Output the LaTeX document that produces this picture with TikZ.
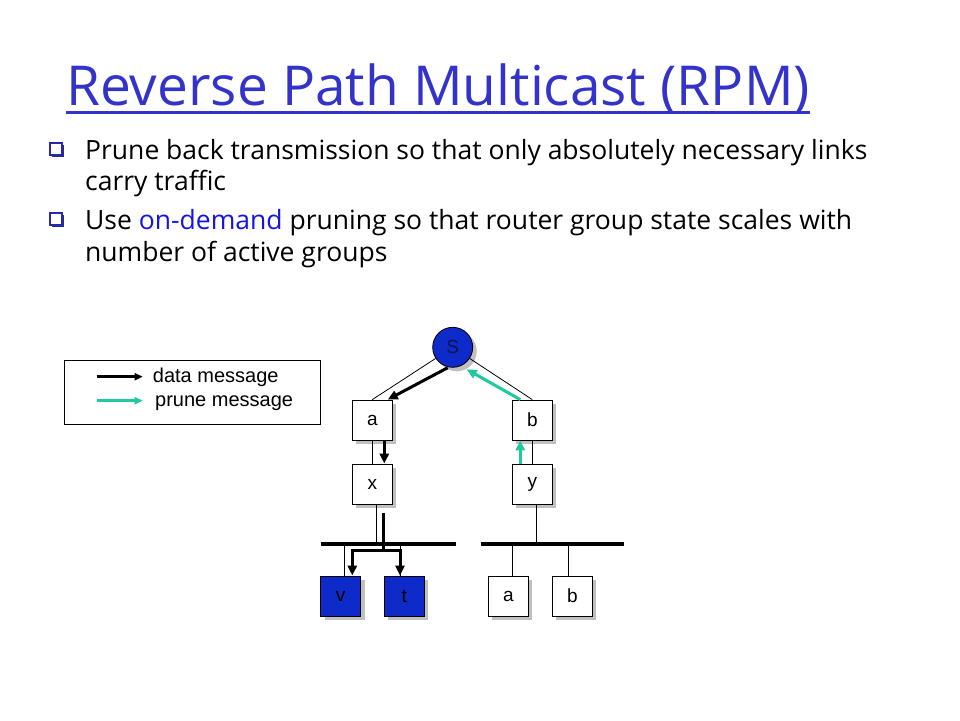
\documentclass[tikz,border=0pt]{standalone}
\usepackage{fontspec}
\setmainfont{Open Sans}
\newfontfamily\arialf{Liberation Sans}
\usetikzlibrary{arrows.meta,shadows,calc}
\definecolor{titleblue}{RGB}{51,51,204}
\definecolor{nodeblue}{RGB}{14,42,200}
\definecolor{prunegreen}{RGB}{32,200,160}
\definecolor{ondemand}{RGB}{20,20,230}
\definecolor{bulletblue}{RGB}{40,40,170}
\begin{document}
\begin{tikzpicture}[x=1pt,y=-1pt,
  shad/.style={drop shadow={shadow xshift=4pt, shadow yshift=-4pt, fill=black!70, opacity=0.35}},
  box/.style={draw=black, line width=0.8pt, fill=white, minimum size=40pt, inner sep=0pt,
    font=\arialf\fontsize{19}{19}\selectfont, shad},
  bluebox/.style={box, fill=nodeblue},
  link/.style={line width=0.8pt},
  bus/.style={line width=4.5pt},
  tip/.style={-{Triangle[length=10pt,width=9pt]}},
  data/.style={line width=3pt, tip},
  prune/.style={line width=3pt, draw=prunegreen, tip},
  body/.style={anchor=base west, inner sep=0pt, font=\fontsize{26.5}{26.5}\selectfont},
  bulletsq/.style={draw=bulletblue, line width=1.3pt, fill=white, minimum size=12pt, inner sep=0pt,
    drop shadow={shadow xshift=1.8pt, shadow yshift=-1.8pt, fill=bulletblue, opacity=1}},
  legtext/.style={anchor=west, inner sep=0pt, font=\arialf\fontsize{20}{20}\selectfont}
]
\useasboundingbox (0,0) rectangle (960,720);
\fill[white] (0,0) rectangle (960,720);

% title
\node[anchor=base west, inner sep=0pt, text=titleblue, font=\fontsize{55}{55}\selectfont] (title) at (66,105) {Reverse Path Multicast (RPM)};
\draw[titleblue, line width=3pt] ($(title.base west)+(0,7)$) -- ($(title.base east)+(0,7)$);

% bullets
\node[bulletsq] (b1) at (56,149) {};
\node[body] (l1) at (85,159) {Prune back transmission so that only absolutely necessary links};
\node[body] (l2) at (85,190) {carry traffic};
\node[bulletsq] (b2) at (56,219) {};
\node[body] (l3) at (85,229) {Use \textcolor{ondemand}{on-demand} pruning so that router group state scales with};
\node[body] (l4) at (85,261) {number of active groups};

% legend
\node[draw, line width=0.8pt, minimum width=256pt, minimum height=64pt, inner sep=0pt, anchor=north west] (legend) at (64,360) {};
\coordinate (d1) at ($(legend.north west)+(32.7,16.7)$);
\coordinate (d2) at ($(legend.north west)+(78.7,16.7)$);
\coordinate (p1) at ($(legend.north west)+(32.7,40.7)$);
\coordinate (p2) at ($(legend.north west)+(78.7,40.7)$);
\draw[line width=2.5pt, -{Triangle[length=8pt,width=7pt]}] (d1) -- (d2);
\draw[line width=2.5pt, draw=prunegreen, -{Triangle[length=8pt,width=7pt]}] (p1) -- (p2);
\node[legtext] (dl) at (152.7,377) {data message};
\node[legtext] (pl) at (155,403) {prune message};

% network nodes
\node[circle, draw=black, line width=0.8pt, fill=nodeblue, minimum size=40pt, inner sep=0pt,
  font=\arialf\fontsize{19}{19}\selectfont, text={rgb,255:red,10;green,20;blue,80}, shad] (S) at (452.7,347.3) {S};
\node[box] (a) at (372.3,420) {a};
\node[box] (b) at (532.3,420) {b};
\node[box] (x) at (372.3,484) {x};
\node[box] (y) at (532.3,484) {y};
\node[bluebox] (v) at (340.7,596) {v};
\node[bluebox] (t) at (404.3,596) {t};
\node[box] (a2) at (508.3,596) {a};
\node[box] (b2) at (572.3,596) {b};

% buses
\coordinate (busL1) at (320.7,544);
\coordinate (busL2) at (456,544);
\coordinate (busR1) at (480.7,544);
\coordinate (busR2) at (624,544);

% thin links
\draw[link] (S) -- (a.north);
\draw[link] (S) -- (b.north);
\draw[link] (a) -- (x);
\draw[link] (b) -- (y);
\draw[link] ([xshift=4.5pt]x.south) -- ([xshift=4.5pt]x.south |- busL1);
\draw[link] ([xshift=4.5pt]y.south) -- ([xshift=4.5pt]y.south |- busR1);
\draw[link] ([xshift=3.3pt]v.north) -- ([xshift=3.3pt]v.north |- busL1);
\draw[link] ([xshift=-4.3pt]t.north) -- ([xshift=-4.3pt]t.north |- busL1);
\draw[link] ([xshift=4pt]a2.north) -- ([xshift=4pt]a2.north |- busR1);
\draw[link] ([xshift=-4pt]b2.north) -- ([xshift=-4pt]b2.north |- busR1);

\draw[bus] (busL1) -- (busL2);
\draw[bus] (busR1) -- (busR2);

% data messages
\draw[data] ([xshift=-5pt]S.south) -- ([xshift=-5pt]a.north east);
\draw[data] ([xshift=12pt]a.south) -- ([xshift=12pt]x.north);
\draw[line width=3pt] ($(x.south)+(11,8.7)$) -- ++(0,37.3) coordinate (jn);
\draw[data] (jn) -| ([xshift=11.6pt]v.north);
\draw[data] (jn) -| ([xshift=-4.3pt]t.north);

% prune messages
\draw[prune] ([xshift=-12pt]b.north) -- ($(S)+(14,22)$);
\draw[prune] ([xshift=-12pt]y.north) -- ([xshift=-12pt]b.south);
\end{tikzpicture}
\end{document}
